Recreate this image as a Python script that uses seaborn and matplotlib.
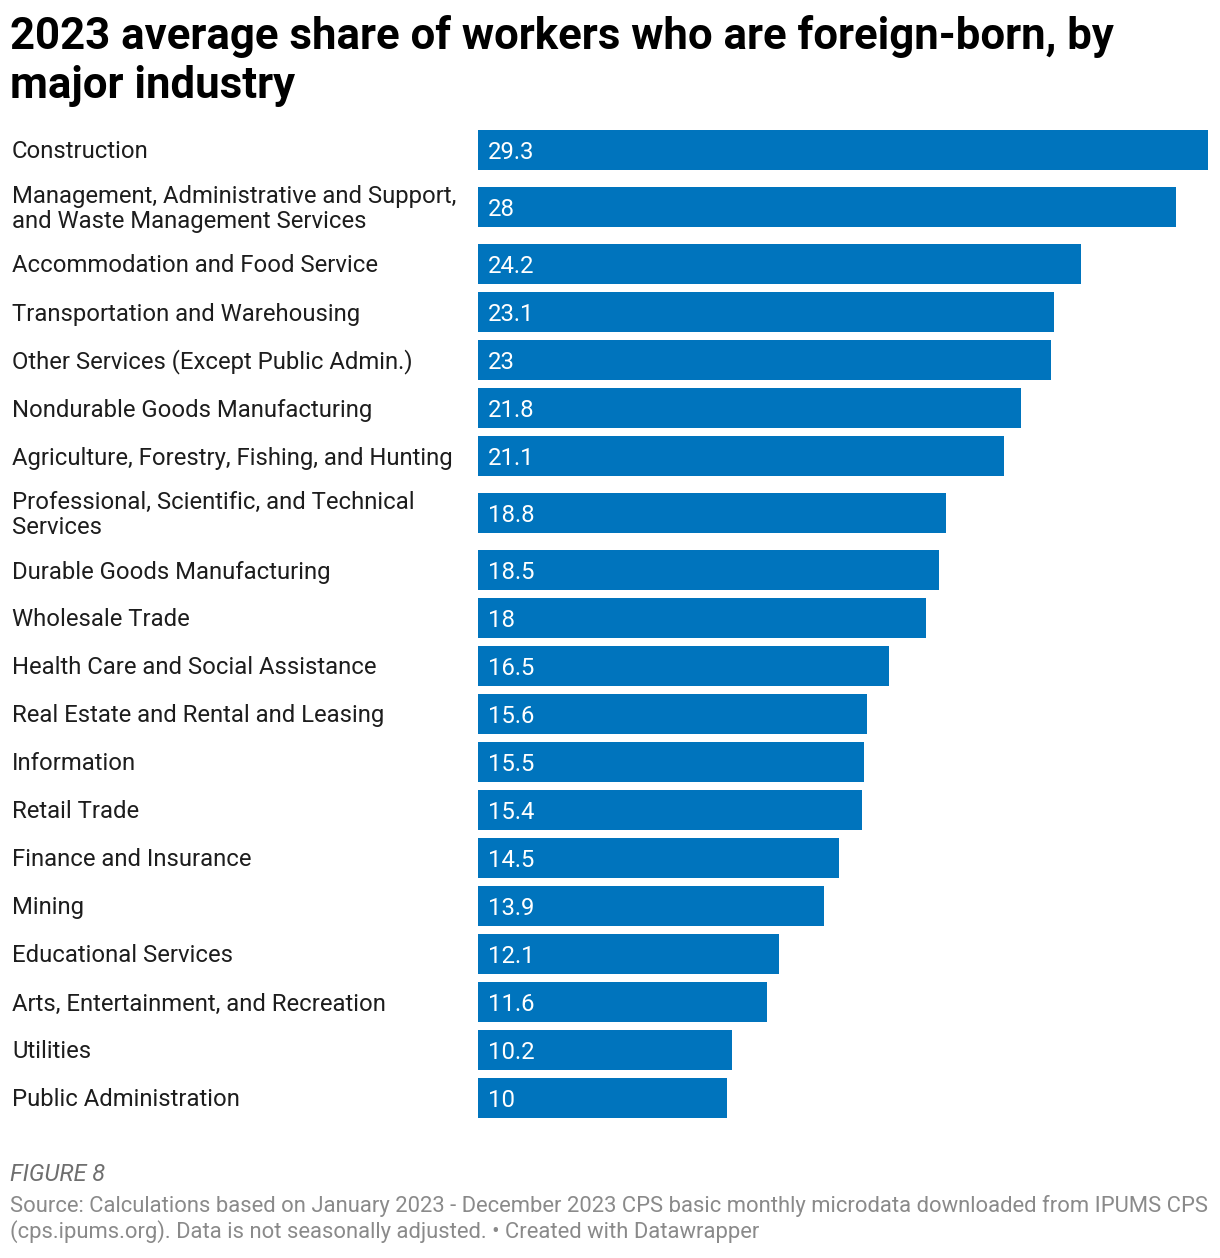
import matplotlib
matplotlib.use("Agg")
import matplotlib.pyplot as plt
import matplotlib.transforms as mtransforms
import seaborn as sns
import pandas as pd

industries = [
    "Construction",
    "Management, Administrative and Support,\nand Waste Management Services",
    "Accommodation and Food Service",
    "Transportation and Warehousing",
    "Other Services (Except Public Admin.)",
    "Nondurable Goods Manufacturing",
    "Agriculture, Forestry, Fishing, and Hunting",
    "Professional, Scientific, and Technical\nServices",
    "Durable Goods Manufacturing",
    "Wholesale Trade",
    "Health Care and Social Assistance",
    "Real Estate and Rental and Leasing",
    "Information",
    "Retail Trade",
    "Finance and Insurance",
    "Mining",
    "Educational Services",
    "Arts, Entertainment, and Recreation",
    "Utilities",
    "Public Administration",
]
shares = [29.3, 28, 24.2, 23.1, 23, 21.8, 21.1, 18.8, 18.5, 18,
          16.5, 15.6, 15.5, 15.4, 14.5, 13.9, 12.1, 11.6, 10.2, 10]

title = "2023 average share of workers who are foreign-born, by\nmajor industry"
note = "FIGURE 8"
source = ("Source: Calculations based on January 2023 - December 2023 CPS basic monthly "
          "microdata downloaded from IPUMS CPS\n(cps.ipums.org). Data is not seasonally "
          "adjusted. \u2022 Created with Datawrapper")

BLUE = "#0074bd"
W, H = 1220, 1258

# row layout in units of one single-line row (48px); two-line labels get extra room
ROW, BAR, EXTRA = 48.0, 40.0, 9.0
pos = []
cur, prev_extra = 0.0, 0.0
for i, lab in enumerate(industries):
    extra = EXTRA if "\n" in lab else 0.0
    if i > 0:
        cur += (ROW + prev_extra + extra) / ROW
    pos.append(cur)
    prev_extra = extra

df = pd.DataFrame({"industry": industries, "share": shares, "pos": pos})

sns.set_theme(style="white")
plt.rcParams["font.family"] = ["Roboto", "DejaVu Sans"]

fig = plt.figure(figsize=(W / 100, H / 100), dpi=100)
ax = fig.add_axes([478 / W, 1 - 1118 / H, 730 / W, 988 / H])

sns.barplot(data=df, x="share", y="pos", orient="y", native_scale=True,
            width=BAR / ROW, color=BLUE, saturation=1, linewidth=0,
            errorbar=None, ax=ax)

half = BAR / ROW / 2
ax.set_xlim(0, max(shares))
ax.set_ylim(pos[-1] + half, pos[0] - half)
ax.set_axis_off()

# category labels at the left edge of the figure
lab_tr = mtransforms.blended_transform_factory(fig.transFigure, ax.transData)
lab_tr = mtransforms.offset_copy(lab_tr, fig=fig, x=0, y=-2, units="dots")
for lab, p in zip(industries, pos):
    ax.text(12 / W, p, lab, transform=lab_tr, ha="left", va="center",
            fontsize=17.2, color="#1d1d1d", linespacing=1.1)

# value labels inside the bars
val_tr = mtransforms.offset_copy(ax.transData, fig=fig, x=10, y=0, units="dots")
for v, p in zip(shares, pos):
    ax.text(0, p, f"{v:g}", transform=val_tr, ha="left", va="center_baseline",
            fontsize=17.2, color="white")

# va="baseline" on multi-line text anchors the last line
fig.text(10 / W, 1 - 98 / H, title, ha="left", va="baseline", fontsize=31.5,
         fontweight="bold", color="#000000", linespacing=1.2)
fig.text(10 / W, 1 - 1181 / H, note, ha="left", va="baseline", fontsize=17,
         fontstyle="italic", color="#6f6f6f")
fig.text(10 / W, 1 - 1238 / H, source, ha="left", va="baseline", fontsize=15.8,
         color="#8a8a8a", linespacing=1.2)

fig.savefig("out.png", dpi=100)
